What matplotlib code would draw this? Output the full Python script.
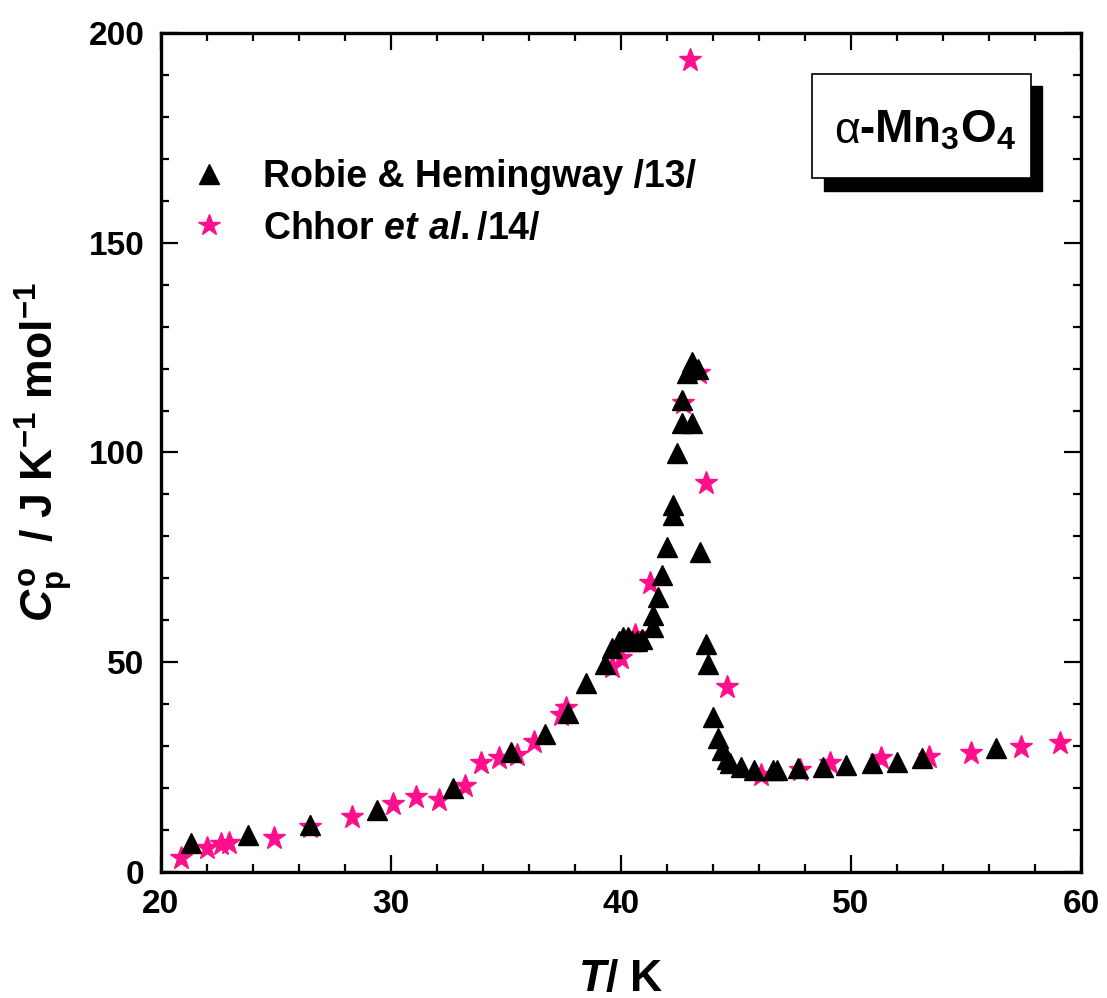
import matplotlib
matplotlib.use("Agg")
import matplotlib.pyplot as plt
from matplotlib.patches import Rectangle
from matplotlib.ticker import MultipleLocator

plt.rcParams['font.family'] = ['Liberation Sans', 'DejaVu Sans']
plt.rcParams['font.weight'] = 'bold'
plt.rcParams['axes.labelweight'] = 'bold'
plt.rcParams['mathtext.fontset'] = 'custom'
plt.rcParams['mathtext.rm'] = 'Liberation Sans:bold'
plt.rcParams['mathtext.bf'] = 'Liberation Sans:bold'
plt.rcParams['mathtext.it'] = 'Liberation Sans:bold:italic'

# Robie & Hemingway /13/
robie_T = [21.3, 23.8, 26.5, 29.4, 32.7, 35.2, 36.7, 37.7, 38.5, 39.3,
           39.6, 39.9, 40.1, 40.3, 40.5, 40.7, 40.9, 41.4, 41.4, 41.6,
           41.8, 42.0, 42.25, 42.25, 42.45, 42.65, 43.1, 42.65, 42.85, 43.1,
           43.35, 43.45, 43.7, 43.8, 44.0, 44.2, 44.4, 44.6, 44.75, 45.2,
           45.8, 46.6, 46.8, 47.7, 48.8, 49.8, 50.9, 52.0, 53.1, 56.3]
robie_Cp = [6.9, 8.8, 11.2, 14.8, 20.0, 28.6, 33.0, 38.0, 45.0, 49.6,
            53.5, 55.0, 56.0, 56.0, 55.0, 55.0, 55.5, 58.4, 61.3, 65.6,
            70.8, 77.5, 85.0, 87.5, 99.9, 107.0, 107.0, 112.5, 119.0, 121.6,
            120.0, 76.3, 54.3, 49.6, 37.0, 31.9, 29.0, 27.0, 26.0, 25.0,
            24.3, 24.3, 24.3, 24.7, 25.0, 25.5, 26.0, 26.3, 27.2, 29.5]

# Chhor et al. /14/
chhor_T = [20.85, 22.0, 22.6, 22.96, 24.9, 26.5, 28.3, 30.1, 31.1, 32.1,
           33.2, 33.9, 34.7, 35.5, 36.2, 37.4, 37.6, 39.6, 40.0, 40.6,
           41.26, 42.7, 43.0, 43.4, 43.7, 44.6, 46.1, 47.8, 49.1, 51.3,
           53.4, 55.2, 57.4, 59.1]
chhor_Cp = [3.3, 5.7, 6.7, 7.0, 8.1, 10.8, 13.2, 16.2, 17.9, 17.2,
            20.5, 26.0, 27.2, 27.9, 31.0, 37.4, 39.0, 48.9, 51.0, 56.5,
            68.9, 111.8, 193.6, 119.0, 92.7, 44.1, 23.1, 24.3, 26.0, 27.2,
            27.4, 28.4, 29.8, 30.7]

fig = plt.figure(figsize=(11.07, 9.98), dpi=100)
ax = fig.add_axes([0.1454, 0.1263, 0.8311, 0.8406])

ax.plot(chhor_T, chhor_Cp, ls='none', marker='*', ms=17, color='#FF0F8C',
        mec='#FF0F8C', zorder=2, label='Chhor $\\mathit{et\\ al.}$/14/')
ax.plot(robie_T, robie_Cp, ls='none', marker='^', ms=15, color='black',
        zorder=3, label='Robie & Hemingway /13/')

ax.set_xlim(20, 60)
ax.set_ylim(0, 200)
ax.xaxis.set_major_locator(MultipleLocator(10))
ax.xaxis.set_minor_locator(MultipleLocator(2))
ax.yaxis.set_major_locator(MultipleLocator(50))
ax.yaxis.set_minor_locator(MultipleLocator(10))
ax.tick_params(which='both', direction='in', top=True, right=True, width=1.6)
ax.tick_params(which='major', length=12, labelsize=24, pad=12)
ax.tick_params(which='minor', length=6)
for s in ax.spines.values():
    s.set_linewidth(2.4)

ax.set_xlabel('$\\mathit{T}$/ K', fontsize=32, labelpad=28)
ax.set_ylabel('$\\mathit{C}^{\\mathrm{o}}_{\\mathrm{p}}$  / J K$^{-1}$ mol$^{-1}$',
              fontsize=32, labelpad=10)

h, l = ax.get_legend_handles_labels()
ax.legend(h[::-1], l[::-1], loc='upper left', bbox_to_anchor=(0.0315, 0.850),
          frameon=False, fontsize=27, handlelength=1.0, handletextpad=0.95,
          labelspacing=0.42, borderpad=0, borderaxespad=0, markerscale=0.95)

# formula box with shadow
fig.patches.append(Rectangle((824 / 1107, 1 - 191 / 998), 218 / 1107, 105 / 998,
                             transform=fig.transFigure, facecolor='black',
                             edgecolor='black', zorder=5))
fig.patches.append(Rectangle((812 / 1107, 1 - 178 / 998), 219 / 1107, 104 / 998,
                             transform=fig.transFigure, facecolor='white',
                             edgecolor='black', linewidth=1.2, zorder=6))
fig.text(834 / 1107, 1 - 143 / 998, '\u03b1', fontsize=32, fontweight='normal',
         va='baseline', ha='left', zorder=7)
fig.text(859 / 1107, 1 - 143 / 998, '-Mn$_3$O$_4$', fontsize=33,
         va='baseline', ha='left', zorder=7)

fig.savefig('out.png', dpi=100)
